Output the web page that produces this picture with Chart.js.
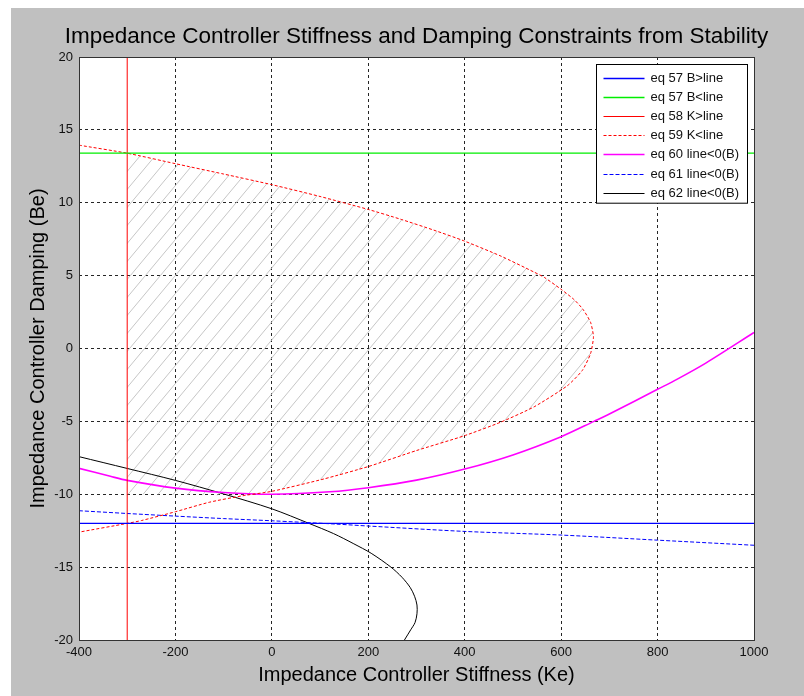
<!DOCTYPE html>
<html>
<head>
<meta charset="utf-8">
<script src="https://cdn.jsdelivr.net/npm/chart.js@4.4.0/dist/chart.umd.min.js"></script>
<style>
  html, body { margin: 0; padding: 0; background: #fff; }
  #wrap { width: 804px; height: 696px; }
</style>
</head>
<body>
<div id="wrap"><canvas id="chart" width="804" height="696"></canvas></div>
<script>
// ===== values (K = stiffness, B = damping) =====
const xTicks = [-400, -200, 0, 200, 400, 600, 800, 1000];
const yTicks = [-20, -15, -10, -5, 0, 5, 10, 15, 20];

// eq 57: two horizontal limits
const k57 = [-400, 1000];
const b57Low = [-12, -12];
const b57High = [13.4, 13.4];

// eq 58: vertical limit
const k58 = [-300, -300];
const b58 = [-20, 20];

// eq 59: upper branch -> tip -> lower branch
const k59 = [-400, -300, -200, -100, 0, 100, 200, 267, 336, 398, 475, 544, 565, 600, 627, 645, 661, 667,
             661, 644, 613, 544, 475, 398, 300, 200, 108, 0, -60, -130, -200, -270, -300, -400];
const b59 = [13.95, 13.4, 12.68, 11.97, 11.24, 10.43, 9.54, 8.87, 8.12, 7.39, 6.34, 5.24, 4.88, 4.06, 3.35, 2.7, 1.8, 0.8,
             -0.35, -1.5, -2.55, -4.0, -5.05, -6.0, -7.0, -8.1, -8.95, -9.8, -10.1, -10.55, -11.2, -11.8, -12.0, -12.6];

// eq 60
const k60 = [-400, -335, -300, -200, -100, 0, 120, 200, 300, 400, 500, 600, 668, 700, 800, 841, 900, 1000];
const b60 = [-8.22, -8.77, -9.05, -9.58, -9.88, -10.0, -9.83, -9.55, -9.03, -8.27, -7.3, -6.05, -5.0, -4.5, -2.8, -2.1, -1.0, 1.1];

// eq 61
const k61 = [-400, -300, -200, -100, 0, 135, 200, 400, 600, 800, 1000];
const b61 = [-11.13, -11.32, -11.5, -11.67, -11.82, -12.05, -12.18, -12.55, -12.8, -13.15, -13.5];

// eq 62
const k62 = [-400, -300, -200, -100, 0, 77, 128, 170, 206, 247, 270, 287, 296, 301, 301, 297, 288, 275];
const b62 = [-7.42, -8.23, -9.05, -9.98, -11.0, -12.0, -12.7, -13.4, -14.05, -15.0, -15.7, -16.4, -17.0, -17.6, -18.2, -18.8, -19.3, -20.0];

// hatched region: eq 59 from the K=-300 line round to B=-10, then back along B=-10
const hatchK = k59.slice(1, 29).concat([-300]);
const hatchB = b59.slice(1, 29).concat([-10]);

const FONT = "'Liberation Sans', Arial, sans-serif";

function pts(ks, bs) {
  return ks.map((k, i) => ({ x: k, y: bs[i] }));
}

function lineSet(label, ks, bs, color, dash, width, tension) {
  return {
    label, data: pts(ks, bs), borderColor: color, backgroundColor: color,
    borderWidth: width || 1, borderDash: dash || [], pointRadius: 0,
    fill: false, tension: tension || 0, order: 0
  };
}

function makeHatch() {
  const w = 15, h = 18;
  const c = document.createElement("canvas");
  c.width = w; c.height = h;
  const g = c.getContext("2d");
  g.strokeStyle = "#c6c6c6";
  g.lineWidth = 1;
  for (let k = -1; k <= 1; k++) {
    g.beginPath();
    g.moveTo(k * w, h);
    g.lineTo(k * w + w, 0);
    g.stroke();
  }
  return g.createPattern(c, "repeat");
}

// grey figure background + white axes box
const backdrop = {
  id: "backdrop",
  beforeDraw(chart) {
    const { ctx, width, height, chartArea: a } = chart;
    ctx.save();
    ctx.fillStyle = "#fff";
    ctx.fillRect(0, 0, width, height);
    ctx.fillStyle = "#c0c0c0";
    ctx.fillRect(11, 8, width - 11, height - 8);
    ctx.fillStyle = "#fff";
    ctx.fillRect(a.left, a.top, a.right - a.left, a.bottom - a.top);
    ctx.restore();
  }
};

// axes frame and legend box in the upper right corner
const frameAndLegend = {
  id: "frameAndLegend",
  afterDraw(chart) {
    const { ctx, chartArea: a } = chart;
    ctx.save();
    ctx.strokeStyle = "#333";
    ctx.lineWidth = 1;
    ctx.setLineDash([]);
    ctx.strokeRect(a.left + 0.5, a.top + 0.5, a.right - a.left, a.bottom - a.top);

    const sets = chart.data.datasets.filter((d) => d.label !== "hatch");
    const bw = 151, rowH = 19.1;
    const bh = 13 + rowH * sets.length - 8;
    const bx = Math.round(a.right - 158) + 0.5, by = Math.round(a.top + 7) + 0.5;
    ctx.fillStyle = "#fff";
    ctx.fillRect(bx, by, bw, bh);
    ctx.strokeStyle = "#000";
    ctx.strokeRect(bx, by, bw, bh);
    ctx.font = "13px " + FONT;
    ctx.textBaseline = "middle";
    ctx.textAlign = "left";
    sets.forEach((d, i) => {
      const y = Math.round(by + 13.5 + i * rowH) + 0.5;
      ctx.strokeStyle = d.borderColor;
      ctx.lineWidth = d.borderWidth;
      ctx.setLineDash(d.borderDash);
      ctx.beginPath();
      ctx.moveTo(bx + 7, y);
      ctx.lineTo(bx + 48, y);
      ctx.stroke();
      ctx.setLineDash([]);
      ctx.fillStyle = "#111";
      ctx.fillText(d.label, bx + 54, y);
    });
    ctx.restore();
  }
};

const canvas = document.getElementById("chart");

new Chart(canvas, {
  type: "line",
  data: {
    datasets: [
      lineSet("eq 57 B>line", k57, b57Low, "#0000ff", [], 1.3),
      lineSet("eq 57 B<line", k57, b57High, "#00ee00", [], 1.3),
      lineSet("eq 58 K>line", k58, b58, "#ff0000"),
      lineSet("eq 59 K<line", k59, b59, "#ff0000", [3, 2], 1, 0.2),
      lineSet("eq 60 line<0(B)", k60, b60, "#ff00ff", [], 1.6, 0.3),
      lineSet("eq 61 line<0(B)", k61, b61, "#0000ff", [4, 2], 1, 0.3),
      lineSet("eq 62 line<0(B)", k62, b62, "#000000", [], 1, 0.3),
      {
        label: "hatch", data: pts(hatchK, hatchB), borderWidth: 0, borderColor: "rgba(0,0,0,0)",
        pointRadius: 0, fill: "shape", backgroundColor: makeHatch(), tension: 0, order: 5
      }
    ]
  },
  options: {
    responsive: false,
    animation: false,
    devicePixelRatio: 1,
    // left padding + right spacer axis keep the title centred over the axes box
    layout: { padding: { left: 29, right: 0, top: 0, bottom: 0 } },
    plugins: {
      legend: { display: false },
      tooltip: { enabled: false },
      title: {
        display: true,
        text: "Impedance Controller Stiffness and Damping Constraints from Stability",
        color: "#000", font: { family: FONT, size: 22.5, weight: "normal" },
        padding: { top: 23.5, bottom: 6.5 }
      }
    },
    scales: {
      x: {
        type: "linear", min: -400, max: 1000,
        afterBuildTicks: (s) => { s.ticks = xTicks.map((v) => ({ value: v })); },
        afterFit: (s) => { s.height = 56; },
        ticks: { color: "#111", padding: 5, maxRotation: 0, font: { family: FONT, size: 13 },
                 callback: (v) => String(v) },
        grid: { color: "rgba(0,0,0,0.85)", lineWidth: 1, drawTicks: false },
        border: { display: false, dash: [3, 3] },
        title: {
          display: true, text: "Impedance Controller Stiffness (Ke)", color: "#000",
          font: { family: FONT, size: 20 }, padding: { top: 0, bottom: 9 }
        }
      },
      y: {
        type: "linear", min: -20, max: 20,
        afterBuildTicks: (s) => { s.ticks = yTicks.map((v) => ({ value: v })); },
        afterFit: (s) => { s.width = 50; },
        ticks: { color: "#111", padding: 6, font: { family: FONT, size: 13 },
                 callback: (v) => String(v) },
        grid: { color: "rgba(0,0,0,0.85)", lineWidth: 1, drawTicks: false },
        border: { display: false, dash: [3, 3] },
        title: {
          display: true, text: "Impedance Controller Damping (Be)", color: "#000",
          font: { family: FONT, size: 20 }, padding: { top: -3, bottom: 0 }
        }
      },
      spacer: {
        type: "linear", position: "right", min: 0, max: 1,
        afterFit: (s) => { s.width = 50; },
        ticks: { display: false },
        grid: { display: false, drawTicks: false },
        border: { display: false },
        title: { display: false }
      }
    }
  },
  plugins: [backdrop, frameAndLegend]
});
</script>
</body>
</html>
